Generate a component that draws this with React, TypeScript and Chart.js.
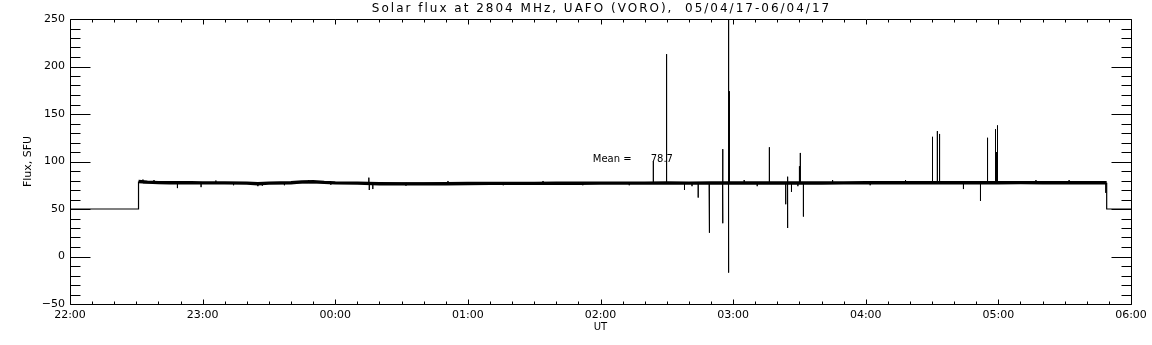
import { useEffect, useRef } from "react";
import { Chart, registerables } from "chart.js";

Chart.register(...registerables);

// ---------- labels ----------
const TITLE = "Solar flux at 2804 MHz, UAFO (VORO),  05/04/17-06/04/17";
const X_TITLE = "UT";
const Y_TITLE = "Flux, SFU";
const MEAN_LABEL = "Mean =";
const MEAN_VALUE = "78.7";

// x axis: minutes after 22:00 UT
const xTickLabels = ["22:00", "23:00", "00:00", "01:00", "02:00", "03:00", "04:00", "05:00", "06:00"];
const yTickLabels = ["\u221250", "0", "50", "100", "150", "200", "250"];

// receiver off / calibration level (null = gap)
const offlineTimes = [0, 31, 31, 250, 469, 469, 480];
const offlineValues = [50, 50, 79, null, 77.7, 50, 50];

// quiet solar flux level
const fluxTimes = [31, 35, 40, 45, 50, 55, 60, 70, 80, 85, 90, 100, 105, 110, 115, 120, 130, 140, 150, 160, 170, 180, 190, 200, 210, 220, 230, 240, 250, 260, 270, 280, 290, 300, 310, 320, 330, 340, 350, 360, 370, 380, 390, 400, 410, 420, 430, 440, 450, 460, 469];
const fluxValues = [79, 78.3, 77.8, 77.7, 77.6, 77.6, 77.5, 77.5, 77.2, 76.6, 77.2, 77.6, 78.6, 78.8, 78, 77.5, 77.2, 76.6, 76.5, 76.5, 76.6, 76.8, 77, 77, 77, 77.1, 77.1, 77.2, 77.2, 77.2, 77.3, 77.2, 77.3, 77.3, 77.3, 77.3, 77.4, 77.4, 77.5, 77.6, 77.7, 77.7, 77.7, 77.7, 77.7, 77.7, 77.8, 77.7, 77.7, 77.7, 77.7];

// short bursts / interference spikes (incl. small noise ticks on the band)
const SPIKE_BASE = 77.5;
const spikeTimes = [33, 38, 48.6, 59.3, 66, 74, 85, 87, 97, 108, 118, 135.2, 135.4, 137, 152, 171, 196, 214, 232, 253, 263.9, 269.9, 278, 281.4, 284.2, 289.1, 289.4, 295.2, 295.4, 297.9, 298.0, 298.3, 305, 310.9, 316.4, 323.8, 324.6, 324.7, 326.4, 329.3, 330, 330.4, 331.8, 345, 362, 378, 390.2, 392.4, 393.4, 404.2, 411.9, 415.1, 418.7, 419.2, 419.6, 437, 452, 468.6];
const spikeValues = [81, 80.5, 72, 73, 80, 75, 74, 74.5, 75, 80.5, 75.5, 83, 70, 71, 74.5, 79.5, 75, 79.5, 75, 75, 100, 213, 70, 74, 62, 40, 25, 113, 35, 252, -17, 174, 80.5, 74, 115, 55, 84, 30, 68, 74, 95, 109, 42, 80.5, 75, 80.5, 126, 132, 129, 71, 58.5, 125, 134, 110, 138, 80.5, 80.5, 67];

const FONT = "'DejaVu Sans', sans-serif";

const frameAndText = {
  id: "frameAndText",
  afterDraw(chart: any) {
    const { ctx, chartArea } = chart;
    const xs = chart.scales.x;
    const ys = chart.scales.y;
    const L = Math.round(chartArea.left) + 0.5;
    const R = Math.round(chartArea.right) + 0.5;
    const T = Math.round(chartArea.top) + 0.5;
    const B = Math.round(chartArea.bottom) + 0.5;
    ctx.save();
    ctx.strokeStyle = "#000";
    ctx.lineWidth = 1;
    ctx.beginPath();
    ctx.rect(L, T, R - L, B - T);
    // x ticks (every 10 min, major each hour)
    for (let m = xs.min; m <= xs.max; m += 10) {
      const px = Math.round(xs.getPixelForValue(m)) + 0.5;
      const len = m % 60 === 0 ? 5 : 3;
      ctx.moveTo(px, B);
      ctx.lineTo(px, B - len);
      ctx.moveTo(px, T);
      ctx.lineTo(px, T + len);
    }
    // y ticks (every 10, major each 50)
    for (let v = ys.min; v <= ys.max; v += 10) {
      const py = Math.round(ys.getPixelForValue(v)) + 0.5;
      const len = v % 50 === 0 ? 20 : 10;
      ctx.moveTo(L, py);
      ctx.lineTo(L + len, py);
      ctx.moveTo(R, py);
      ctx.lineTo(R - len, py);
    }
    ctx.stroke();

    ctx.fillStyle = "#000";
    // title
    ctx.font = `12px ${FONT}`;
    (ctx as any).letterSpacing = "2px";
    ctx.textAlign = "center";
    ctx.textBaseline = "middle";
    ctx.fillText(TITLE, (chartArea.left + chartArea.right) / 2 + 1, 9);
    (ctx as any).letterSpacing = "0px";
    // mean annotation
    ctx.font = `10px ${FONT}`;
    ctx.textAlign = "left";
    ctx.fillText(MEAN_LABEL, xs.getPixelForValue(236.5), ys.getPixelForValue(102));
    ctx.fillText(MEAN_VALUE, xs.getPixelForValue(262.7), ys.getPixelForValue(102));
    ctx.restore();
  },
};

export default function App() {
  const ref = useRef<HTMLCanvasElement | null>(null);

  useEffect(() => {
    if (!ref.current) return;
    const offline = offlineTimes.map((t, i) => ({ x: t, y: offlineValues[i] }));
    const flux = fluxTimes.map((t, i) => ({ x: t, y: fluxValues[i] }));
    const spikes: { x: number; y: number }[] = [];
    spikeTimes.forEach((t, i) => {
      spikes.push({ x: t, y: SPIKE_BASE }, { x: t, y: spikeValues[i] }, { x: t, y: SPIKE_BASE });
    });

    const chart = new Chart(ref.current, {
      type: "line",
      data: {
        datasets: [
          { data: offline as any, borderColor: "#000", borderWidth: 1.2, pointRadius: 0, spanGaps: false },
          { data: spikes as any, borderColor: "#000", borderWidth: 1, pointRadius: 0 },
          { data: flux as any, borderColor: "#000", borderWidth: 3.4, pointRadius: 0 },
        ],
      },
      options: {
        animation: false,
        responsive: false,
        devicePixelRatio: 1,
        layout: { padding: { top: 19, right: 21, left: 0, bottom: 0 } },
        plugins: { legend: { display: false }, tooltip: { enabled: false }, title: { display: false } },
        scales: {
          x: {
            type: "linear",
            min: 0,
            max: 480,
            grid: { display: false, drawTicks: false },
            border: { display: false },
            ticks: {
              stepSize: 60,
              autoSkip: false,
              maxRotation: 0,
              padding: 5,
              color: "#000",
              font: { family: FONT, size: 11 },
              callback: (v: any) => xTickLabels[Math.round(Number(v) / 60)],
            },
            title: { display: true, text: X_TITLE, color: "#000", font: { family: FONT, size: 10 }, padding: { top: 0, bottom: 12 } },
            afterFit: (s: any) => { s.height = 41; },
          },
          y: {
            type: "linear",
            min: -50,
            max: 250,
            grid: { display: false, drawTicks: false },
            border: { display: false },
            ticks: {
              stepSize: 50,
              padding: 5,
              color: "#000",
              font: { family: FONT, size: 11 },
              callback: (v: any) => yTickLabels[Math.round((Number(v) + 50) / 50)],
            },
            title: { display: true, text: Y_TITLE, color: "#000", font: { family: FONT, size: 11 }, padding: { top: 22, bottom: 0 } },
            afterFit: (s: any) => { s.width = 70; },
          },
        },
      },
      plugins: [frameAndText],
    });
    return () => chart.destroy();
  }, []);

  return (
    <div style={{ position: "absolute", left: 0, top: 0, width: 1152, height: 345, background: "#fff" }}>
      <canvas ref={ref} width={1152} height={345} style={{ display: "block" }} />
    </div>
  );
}
